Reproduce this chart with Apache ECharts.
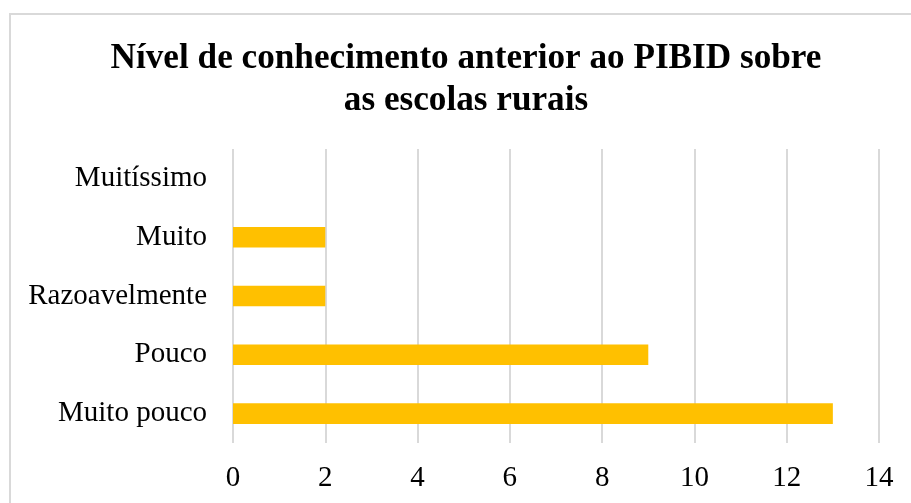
<!DOCTYPE html>
<html><head><meta charset="utf-8">
<script src="https://cdn.jsdelivr.net/npm/echarts@6/dist/echarts.min.js"></script>
<style>html,body{margin:0;padding:0;background:#fff}#c{width:911px;height:503px}</style>
</head><body><div id="c"></div>
<script>
var categories = ['Muito pouco', 'Pouco', 'Razoavelmente', 'Muito', 'Muitíssimo'];
var values = [13, 9, 2, 2, 0];
var titleText = 'Nível de conhecimento anterior ao PIBID sobre\nas escolas rurais';
var font = '"Liberation Serif", "Times New Roman", serif';
var chart = echarts.init(document.getElementById('c'));
chart.setOption({
  animation: false,
  backgroundColor: '#fff',
  graphic: [{
    type: 'rect', shape: {x: 10, y: 14, width: 1000, height: 600},
    style: {fill: 'none', stroke: '#d9d9d9', lineWidth: 2}, silent: true, z: -1
  }],
  title: {
    text: titleText, left: 461, top: 33, textAlign: 'center',
    textStyle: {fontFamily: font, fontWeight: 'bold', fontSize: 35.2, lineHeight: 42, color: '#000'}
  },
  grid: {left: 233, right: 32, top: 149, bottom: 60, containLabel: false},
  xAxis: {
    type: 'value', min: 0, max: 14, interval: 2,
    axisLine: {show: false}, axisTick: {show: false},
    splitLine: {lineStyle: {color: '#d9d9d9', width: 2}},
    axisLabel: {fontFamily: font, fontSize: 29, color: '#000', margin: 21}
  },
  yAxis: {
    type: 'category', data: categories,
    axisLine: {show: false}, axisTick: {show: false},
    axisLabel: {fontFamily: font, fontSize: 29, color: '#000', margin: 26}
  },
  series: [{
    type: 'bar', data: values, barWidth: '35%',
    itemStyle: {color: '#FFC000'}
  }]
});
</script></body></html>
